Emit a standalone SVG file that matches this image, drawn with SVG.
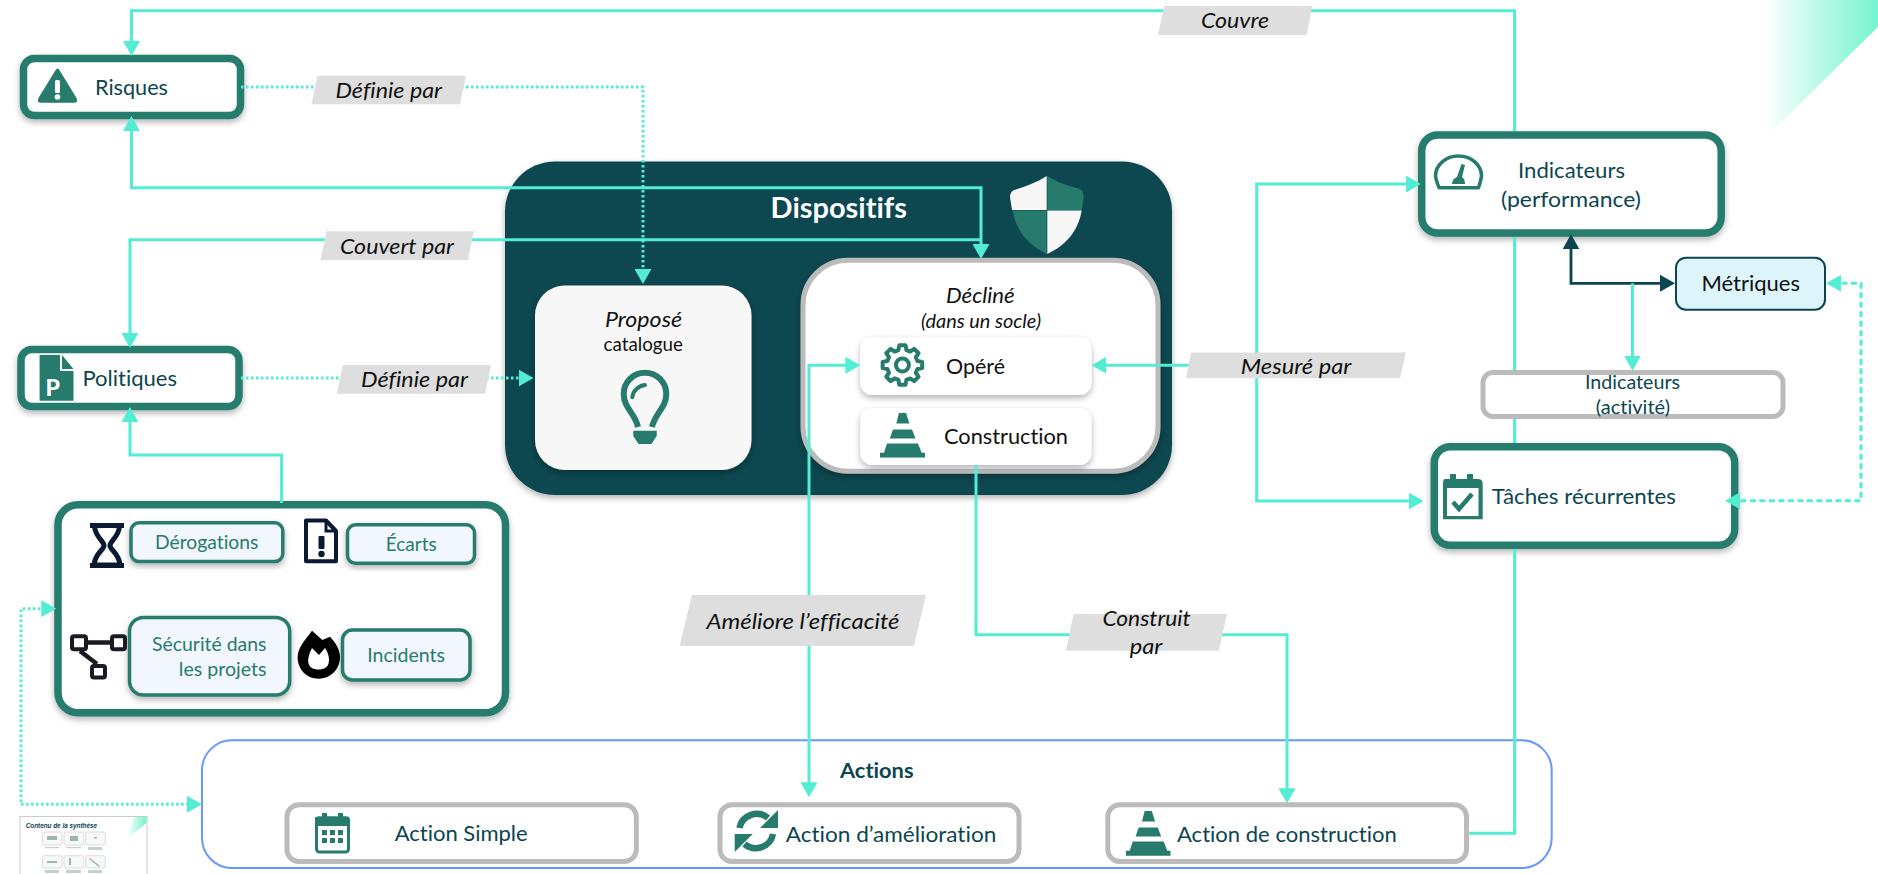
<svg xmlns="http://www.w3.org/2000/svg" xmlns:xlink="http://www.w3.org/1999/xlink" width="1878" height="874" viewBox="0 0 1878 874">
<style>
text{font-family:"Lato","Liberation Sans",sans-serif;fill:#0B4650;font-variant-ligatures:none}
.b{font-size:22px}
.s{font-size:20px}
.g{fill:#277B6D;font-size:20px}
.k{fill:#111}
.i{font-style:italic;fill:#111;font-size:21.500px}
.card{fill:#fff;stroke:#277B6D;stroke-width:7.500}
.grey{fill:#fff;stroke:#BBB;stroke-width:5}
.sub{fill:#F2F6FF;stroke:#277B6D;stroke-width:3.500}
.lab{fill:#DEDEDE}
.ic{fill:#277B6D}
.ln{fill:none;stroke:#52EDD3;stroke-width:3}
.dot{fill:none;stroke:#52EDD3;stroke-width:3;stroke-dasharray:2.500 2.500}
.dash{fill:none;stroke:#52EDD3;stroke-width:3;stroke-dasharray:6 3.500}
</style>
<defs>
<marker id="a" viewBox="0 0 15 17" refX="9" refY="8.500" markerWidth="15" markerHeight="17" markerUnits="userSpaceOnUse" orient="auto-start-reverse"><path d="M0 0L15 8.500L0 17Z" fill="#52EDD3"/></marker>
<marker id="d" viewBox="0 0 15 17" refX="9" refY="8.500" markerWidth="15" markerHeight="17" markerUnits="userSpaceOnUse" orient="auto-start-reverse"><path d="M0 0L15 8.500L0 17Z" fill="#0B4650"/></marker>
<filter id="sh" x="-10%" y="-15%" width="120%" height="135%"><feDropShadow dx="0" dy="3" stdDeviation="3" flood-color="#000" flood-opacity=".3"/></filter>
<linearGradient id="corner" x1="0" y1="0" x2="1" y2="0"><stop offset="0" stop-color="#6FF3CC" stop-opacity=".04"/><stop offset=".55" stop-color="#6FF3CC" stop-opacity=".55"/><stop offset="1" stop-color="#6FF3CC" stop-opacity=".95"/></linearGradient>
<symbol id="cone" viewBox="0 0 45 45"><path fill="#277B6D" d="M19 0H26L29.400 10.700H16.300ZM13 16.700H32L35.500 25.700H9.800ZM7 30.700H38L41.600 40H45V45H0V40H4Z"/></symbol>
</defs>
<rect width="1878" height="874" fill="#fff"/>
<path id="corner-deco" d="M1768 0H1878V27L1768 135Z" fill="url(#corner)"/>

<g id="risques">
<rect class="card" x="23.500" y="58.500" width="217" height="57" rx="11" filter="url(#sh)"/>
<path class="ic" d="M57.500 68.500Q59 68.500 60 71L76.500 98Q78.500 102.500 74.500 102.700H40.500Q36.500 102.500 38.500 98L55 71Q56 68.500 57.500 68.500Z"/>
<rect x="55" y="80" width="5" height="13" rx="1.500" fill="#fff"/><circle cx="57.500" cy="97" r="2.800" fill="#fff"/>
<text class="b" x="95" y="95" textLength="73" lengthAdjust="spacingAndGlyphs">Risques</text>
</g>
<g id="politiques">
<rect class="card" x="21" y="349.500" width="218" height="57" rx="11" filter="url(#sh)"/>
<path class="ic" d="M39.600 355H60V371H73.500V400.700H39.600Z"/><path class="ic" d="M62 355L73.500 369H62Z"/>
<text x="45.500" y="396" font-size="23" font-weight="900" style="fill:#fff">P</text>
<text class="b" x="82.400" y="386" textLength="94.600" lengthAdjust="spacingAndGlyphs">Politiques</text>
</g>
<g id="sources">
<rect class="card" x="58" y="504.700" width="447.500" height="208" rx="20" filter="url(#sh)"/>
<g id="derogations"><rect class="sub" x="131" y="522.800" width="151.800" height="38.800" rx="8" filter="url(#sh)"/>
<path d="M90 525.500H124M90 565.500H124" stroke="#0A1A33" stroke-width="5" fill="none"/><path d="M94.500 526C95 537 104 541 104 545.500C104 550 95 553 94 565H120C119 553 110 550 110 545.500C110 541 119 537 119.500 526" fill="none" stroke="#0A1A33" stroke-width="5"/>
<text class="g" x="155" y="549.300" textLength="103.400" lengthAdjust="spacingAndGlyphs">Dérogations</text></g>
<g id="ecarts"><rect class="sub" x="347.500" y="524.800" width="127" height="38.500" rx="8" filter="url(#sh)"/>
<path d="M306 520.500H326L336 531V561.300H306Z" fill="#fff" stroke="#0A1A33" stroke-width="4" stroke-linejoin="round"/><path d="M326 520.500V531H336" fill="none" stroke="#0A1A33" stroke-width="3"/>
<rect x="318.500" y="536" width="6" height="13" rx="1" fill="#0A1A33"/><circle cx="321.500" cy="554" r="3.200" fill="#0A1A33"/>
<text class="g" x="385.700" y="551" textLength="51" lengthAdjust="spacingAndGlyphs">Écarts</text></g>
<g id="securite"><rect class="sub" x="129.500" y="617.400" width="160.200" height="77.600" rx="14" filter="url(#sh)"/>
<path d="M80 642.500H118M80 651L97 664" fill="none" stroke="#1A1A22" stroke-width="4.500"/>
<rect x="72" y="636.300" width="14" height="13" rx="2" fill="#fff" stroke="#1A1A22" stroke-width="4"/><rect x="112" y="636.300" width="13" height="13" rx="2" fill="#fff" stroke="#1A1A22" stroke-width="4"/><rect x="92" y="666" width="13" height="11.500" rx="2" fill="#fff" stroke="#1A1A22" stroke-width="4"/>
<text class="g" x="152" y="651" textLength="114.500" lengthAdjust="spacingAndGlyphs">Sécurité dans</text>
<text class="g" x="178.800" y="676" textLength="87.700" lengthAdjust="spacingAndGlyphs">les projets</text></g>
<g id="incidents"><rect class="sub" x="342.500" y="630" width="127.500" height="50" rx="10" filter="url(#sh)"/>
<path d="M312 630.700L322.400 640L330 636.700C336 643 340 650 340 657C340 670 330 678.700 318.500 678.700C307 678.700 297.600 670 297.600 657C297.600 648 305 640 312 630.700Z" fill="#000"/>
<path d="M312 648L319 655L325 648C329 654 330 660 328 665C325 671 312 671 309 665C307 660 309 654 312 648Z" fill="#fff"/>
<text class="g" x="367.300" y="662.300" textLength="77.700" lengthAdjust="spacingAndGlyphs">Incidents</text></g>
</g>

<g id="dispositifs">
<rect x="505" y="161.500" width="667" height="333.500" rx="50" fill="#0B4650" filter="url(#sh)"/>
<text x="770.600" y="218" font-size="29" font-weight="700" style="fill:#fff" textLength="136.400" lengthAdjust="spacingAndGlyphs">Dispositifs</text>
<path d="M1046.700 176C1036 183 1024 187 1014 190Q1010 192 1010 197L1012 210H1046.700Z" fill="#F7F7F7"/>
<path d="M1047.300 176C1058 183 1070 186 1080 189Q1083.500 191 1083.500 197L1082 210H1047.300Z" fill="#277B6D"/>
<path d="M1012.700 210.600H1046.700V254C1030 246 1016 232 1012.700 210.600Z" fill="#277B6D"/>
<path d="M1081.700 210.600H1047.300V254C1065 246 1078 232 1081.700 210.600Z" fill="#F7F7F7"/>
</g>
<g id="propose">
<rect x="535" y="285.500" width="216.500" height="184.500" rx="30" fill="#F7F7F7" filter="url(#sh)"/>
<text class="i" x="605" y="326.500" textLength="77" lengthAdjust="spacingAndGlyphs">Proposé</text>
<text class="k" x="603.500" y="351" font-size="19" textLength="79.500" lengthAdjust="spacingAndGlyphs">catalogue</text>
<path d="M638 427C635 413 623.700 408 623.700 394A21.300 21.300 0 0 1 666.300 394C666.300 408 655 413 652 427" fill="none" stroke="#277B6D" stroke-width="6"/>
<path d="M632.300 397.300C633 391 638 386 645 385" fill="none" stroke="#277B6D" stroke-width="4" stroke-linecap="round"/>
<path class="ic" d="M633.300 430.700H656.700V436L651.500 444H638.500L633.300 436Z"/>
</g>
<g id="decline">
<rect class="grey" x="803" y="260.200" width="355" height="211" rx="45" filter="url(#sh)"/>
<text class="i" x="946" y="302.700" textLength="68.700" lengthAdjust="spacingAndGlyphs">Décliné</text>
<text class="i" x="921" y="328" style="font-size:19px" textLength="120" lengthAdjust="spacingAndGlyphs">(dans un socle)</text>
</g>
<g id="opere">
<rect x="860.400" y="337.300" width="231" height="57.700" rx="12" fill="#fff" filter="url(#sh)"/>
<polygon transform="translate(902.400 365)" fill="none" stroke="#277B6D" stroke-width="4" stroke-linejoin="round" points="14.970,-4.010 19.750,-3.130 19.750,3.130 14.970,4.010 13.420,7.750 16.180,11.760 11.760,16.180 7.750,13.420 4.010,14.970 3.130,19.750 -3.130,19.750 -4.010,14.970 -7.750,13.420 -11.760,16.180 -16.180,11.760 -13.420,7.750 -14.970,4.010 -19.750,3.130 -19.750,-3.130 -14.970,-4.010 -13.420,-7.750 -16.180,-11.760 -11.760,-16.180 -7.750,-13.420 -4.010,-14.970 -3.130,-19.750 3.130,-19.750 4.010,-14.970 7.750,-13.420 11.760,-16.180 16.180,-11.760 13.420,-7.750"/>
<circle cx="902.400" cy="365" r="6.500" fill="none" stroke="#277B6D" stroke-width="4"/>
<text class="b k" x="946" y="374" textLength="59" lengthAdjust="spacingAndGlyphs">Opéré</text>
</g>
<g id="construction">
<rect x="860.400" y="408" width="231" height="57" rx="12" fill="#fff" filter="url(#sh)"/>
<use href="#cone" x="880" y="412.700" width="45" height="45"/>
<text class="b k" x="944" y="444" textLength="124" lengthAdjust="spacingAndGlyphs">Construction</text>
</g>

<g id="indicateurs-perf">
<rect class="card" x="1421.700" y="135" width="299.500" height="98" rx="16" filter="url(#sh)"/>
<path d="M1439 187.700H1478.500Q1481 180 1481.500 176A23 20 0 0 0 1435.500 176Q1436 180 1439 187.700Z" fill="none" stroke="#277B6D" stroke-width="3.500" stroke-linejoin="round"/>
<path class="ic" d="M1461.500 164L1465 165L1462 177Q1465 179 1465 184H1452Q1452 179 1457 177Z"/>
<text class="b" x="1518" y="178.300" textLength="107" lengthAdjust="spacingAndGlyphs">Indicateurs</text>
<text class="b" x="1501" y="206.700" textLength="140" lengthAdjust="spacingAndGlyphs">(performance)</text>
</g>
<g id="metriques">
<rect x="1676" y="257.700" width="149" height="52" rx="10" fill="#DCF4FA" stroke="#0B4650" stroke-width="2"/>
<text class="b k" x="1701.500" y="291" textLength="98.500" lengthAdjust="spacingAndGlyphs">Métriques</text>
</g>
<g id="indicateurs-act">
<rect class="grey" x="1483" y="372.500" width="300" height="44" rx="10"/>
<text class="s" x="1585" y="389" textLength="95" lengthAdjust="spacingAndGlyphs">Indicateurs</text>
<text class="s" x="1595.800" y="414.300" textLength="74.200" lengthAdjust="spacingAndGlyphs">(activité)</text>
</g>
<g id="taches">
<rect class="card" x="1434.300" y="446.700" width="300.400" height="98.600" rx="16" filter="url(#sh)"/>
<path class="ic" d="M1445 479H1450V474H1456V479H1467V474H1473V479H1478Q1482.700 479 1482.700 484V519.300H1443V484Q1443 479 1445 479Z"/>
<rect x="1447" y="488" width="31.500" height="28" fill="#fff"/>
<path d="M1453 502L1459 509L1472 494" fill="none" stroke="#277B6D" stroke-width="4.500"/>
<text class="b" x="1491.800" y="504.300" textLength="184.200" lengthAdjust="spacingAndGlyphs">Tâches récurrentes</text>
</g>

<g id="actions">
<rect x="202" y="740.300" width="1349.700" height="127.700" rx="30" fill="#fff" stroke="#6699FF" stroke-width="2"/>
<text x="840" y="778.300" font-size="21" font-weight="700" textLength="73.500" lengthAdjust="spacingAndGlyphs">Actions</text>
</g>
<g id="action-simple">
<rect class="grey" x="287" y="804.800" width="349.300" height="56.700" rx="12"/>
<rect x="316.500" y="818" width="32" height="34" rx="3" fill="#fff" stroke="#277B6D" stroke-width="3"/>
<path class="ic" d="M315 818Q315 816.500 318 816.500H322V813H327V816.500H338V813H343V816.500H347Q350 816.500 350 820V826H315Z"/>
<path class="ic" d="M322 830h5v5h-5zM330 830h5v5h-5zM338 830h5v5h-5zM322 838h5v5h-5zM330 838h5v5h-5zM338 838h5v5h-5z"/>
<text class="b" x="394.700" y="841" textLength="133" lengthAdjust="spacingAndGlyphs">Action Simple</text>
</g>
<g id="action-amelioration">
<rect class="grey" x="720" y="804.800" width="299" height="56.700" rx="12"/>
<path d="M739.500 828A17.500 17.500 0 0 1 768 818" fill="none" stroke="#277B6D" stroke-width="6.500"/><path class="ic" d="M778 810V828H760Z"/>
<path d="M773 834A17.500 17.500 0 0 1 744.500 844" fill="none" stroke="#277B6D" stroke-width="6.500"/><path class="ic" d="M734.700 852V834H752.700Z"/>
<text class="b" x="785.700" y="841.700" textLength="210.600" lengthAdjust="spacingAndGlyphs">Action d’amélioration</text>
</g>
<g id="action-construction">
<rect class="grey" x="1107.800" y="804.800" width="358.700" height="56.700" rx="12"/>
<use href="#cone" x="1125.700" y="810.700" width="45" height="45.300"/>
<text class="b" x="1177" y="842.300" textLength="219.800" lengthAdjust="spacingAndGlyphs">Action de construction</text>
</g>

<g id="thumbnail">
<rect x="20" y="816.500" width="127" height="60" fill="#fff" stroke="#CCC" stroke-width="1"/>
<path d="M134 816.500H146.500V823L128 838Z" fill="url(#corner)"/>
<text x="25.700" y="827.700" font-size="8" font-weight="700" font-style="italic" style="font-family:'Liberation Sans',sans-serif" textLength="71.300" lengthAdjust="spacingAndGlyphs">Contenu de la synthèse</text>
<g fill="#F7F9F9" stroke="#DDD" stroke-width="1">
<rect x="42.500" y="832" width="19.500" height="13" rx="2"/><rect x="64" y="832" width="19.700" height="13" rx="2"/><rect x="85.700" y="832" width="19.600" height="13" rx="2"/>
<rect x="42.500" y="855.700" width="19.500" height="12.300" rx="2"/><rect x="64" y="855.700" width="19.700" height="12.300" rx="2"/><rect x="85.700" y="855.700" width="19.600" height="12.300" rx="2"/>
</g>
<g fill="#9FB3B3">
<rect x="47" y="836" width="10" height="4"/><rect x="70" y="836" width="8" height="5"/><rect x="94" y="837" width="3" height="1.500"/>
<rect x="47" y="861" width="10" height="2"/><rect x="69" y="858" width="2" height="7"/><path d="M90 858L100 866L99 867L89 859Z"/>
</g>
<g fill="#C4D0D0">
<rect x="45" y="847" width="14" height="1.200"/><rect x="66" y="847" width="15" height="1.200"/><rect x="88" y="847" width="14" height="3"/>
<rect x="45" y="870" width="14" height="3"/><rect x="66" y="870" width="15" height="3"/><rect x="88" y="870" width="14" height="3"/>
</g>
</g>

<g id="connectors">
<path class="ln" marker-end="url(#a)" d="M1469 833.300H1514.600V549M1514.600 443V419M1514.600 370V237M1514.600 131V10.700H131.500V50"/>
<path class="ln" marker-start="url(#a)" marker-end="url(#a)" d="M131.500 122V187.700H981V253"/>
<path class="ln" marker-start="url(#a)" d="M130 342V239.700H981"/>
<path class="dot" marker-end="url(#a)" d="M241 87H643V278"/>
<path class="dot" marker-end="url(#a)" d="M241 378H527.500"/>
<path class="ln" marker-end="url(#a)" d="M281.600 503V455H130V413"/>
<path class="dot" marker-start="url(#a)" marker-end="url(#a)" d="M50.300 608.700H21V804.300H196"/>
<path class="ln" marker-start="url(#a)" marker-end="url(#a)" d="M854.400 365.300H809V791.300"/>
<path class="ln" marker-end="url(#a)" d="M1190 365.300H1097.400"/>
<path class="ln" marker-start="url(#a)" marker-end="url(#a)" d="M1414.800 184H1256.700V501H1417.600"/>
<path class="ln" marker-end="url(#a)" d="M976 465V634.700H1287V797.300"/>
<path fill="none" stroke="#0B4650" stroke-width="2.800" marker-start="url(#d)" marker-end="url(#d)" d="M1571 240.300V283.300H1669"/>
<path class="ln" marker-end="url(#a)" d="M1632.500 283.300V364.700"/>
<path class="dash" marker-start="url(#a)" marker-end="url(#a)" d="M1832 283.300H1861V500.700H1731"/>
</g>

<g id="labels">
<g id="l-couvre"><polygon class="lab" points="1164,6 1312.400,6 1306.500,35 1158,35"/><text class="i" x="1201" y="27.500" textLength="68" lengthAdjust="spacingAndGlyphs">Couvre</text></g>
<g id="l-definie1"><polygon class="lab" points="317.500,75.700 466,75.700 460,104.300 311.400,104.300"/><text class="i" x="335.500" y="97.700" textLength="106.500" lengthAdjust="spacingAndGlyphs">Définie par</text></g>
<g id="l-couvert"><polygon class="lab" points="326.500,231.300 474,231.300 468,260 320.400,260"/><text class="i" x="340" y="254" textLength="114" lengthAdjust="spacingAndGlyphs">Couvert par</text></g>
<g id="l-definie2"><polygon class="lab" points="342.900,365 491,365 485,393.700 336.700,393.700"/><text class="i" x="361" y="386.700" textLength="107" lengthAdjust="spacingAndGlyphs">Définie par</text></g>
<g id="l-mesure"><polygon class="lab" points="1191,352.500 1405.800,352.500 1400,378.300 1186,378.300"/><text class="i" x="1240.800" y="374" textLength="110.600" lengthAdjust="spacingAndGlyphs">Mesuré par</text></g>
<g id="l-ameliore"><polygon class="lab" points="691.800,595 926,595 913.900,646 679.600,646"/><text class="i" x="706.500" y="629" textLength="193" lengthAdjust="spacingAndGlyphs">Améliore l’efficacité</text></g>
<g id="l-construit"><polygon class="lab" points="1073.500,614 1227,614 1218.800,650.700 1066,650.700"/><text class="i" x="1102.400" y="626" textLength="88.200" lengthAdjust="spacingAndGlyphs">Construit</text><text class="i" x="1129.800" y="654.300" textLength="32.600" lengthAdjust="spacingAndGlyphs">par</text></g>
</g>
</svg>
